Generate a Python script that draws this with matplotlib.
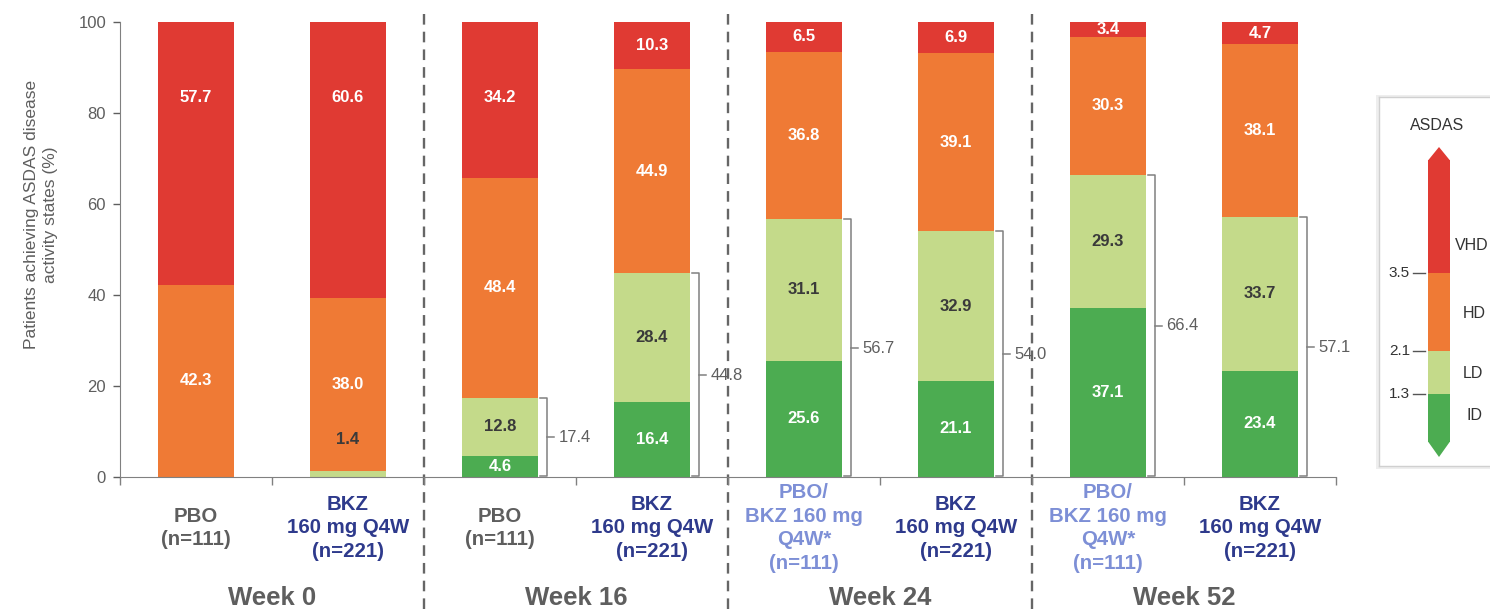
import numpy as np
import matplotlib
matplotlib.use("Agg")
import matplotlib.pyplot as plt
from matplotlib.patches import Polygon, Rectangle
from matplotlib.transforms import blended_transform_factory

plt.rcParams["font.family"] = ["Liberation Sans", "DejaVu Sans"]

# ---- data -------------------------------------------------------------
weeks = ["Week 0", "Week 16", "Week 24", "Week 52"]
arm_labels = [
    "PBO\n(n=111)", "BKZ\n160 mg Q4W\n(n=221)",
    "PBO\n(n=111)", "BKZ\n160 mg Q4W\n(n=221)",
    "PBO/\nBKZ 160 mg\nQ4W*\n(n=111)", "BKZ\n160 mg Q4W\n(n=221)",
    "PBO/\nBKZ 160 mg\nQ4W*\n(n=111)", "BKZ\n160 mg Q4W\n(n=221)",
]
arm_kind = ["pbo", "bkz", "pbo", "bkz", "switch", "bkz", "switch", "bkz"]

id_vals = [0.0, 0.0, 4.6, 16.4, 25.6, 21.1, 37.1, 23.4]
ld_vals = [0.0, 1.4, 12.8, 28.4, 31.1, 32.9, 29.3, 33.7]
hd_vals = [42.3, 38.0, 48.4, 44.9, 36.8, 39.1, 30.3, 38.1]
vhd_vals = [57.7, 60.6, 34.2, 10.3, 6.5, 6.9, 3.4, 4.7]
bracket_vals = [None, None, 17.4, 44.8, 56.7, 54.0, 66.4, 57.1]

cut_points = ["3.5", "2.1", "1.3"]
state_names = ["VHD", "HD", "LD", "ID"]

# ---- style ------------------------------------------------------------
C_VHD = "#e03a33"
C_HD = "#ef7a35"
C_LD = "#c4da8a"
C_ID = "#4cac51"
GRAY = "#5e5e5e"
LGRAY = "#808080"
ARM_COLORS = {"pbo": "#5e5e5e", "bkz": "#2e3a8c", "switch": "#7d8fd6"}

W, H = 1490, 609
fig = plt.figure(figsize=(W / 100, H / 100), dpi=100)
ax = fig.add_axes([120 / W, 1 - 477 / H, 1216 / W, 455 / H])

x = np.arange(len(id_vals))
bw = 0.5
segs = [(id_vals, C_ID, "w"), (ld_vals, C_LD, "#3a3a3a"),
        (hd_vals, C_HD, "w"), (vhd_vals, C_VHD, "w")]
bottom = np.zeros(len(x))
for k, (vals, col, tcol) in enumerate(segs):
    vals = np.array(vals)
    ax.bar(x, vals, bw, bottom=bottom, color=col, edgecolor="none", zorder=2)
    for i, v in enumerate(vals):
        if v <= 0:
            continue
        ymid = bottom[i] + v / 2
        c = tcol
        if v < 2:
            # too thin for a label: put it just above in dark text
            ymid = bottom[i] + 8.3
            c = "#3a3a3a"
        if k == 3:
            # tall top segments get their label pushed up near the top
            ymid = max(ymid, 83.3)
        ax.text(i, ymid, f"{v:.1f}", ha="center", va="center", color=c,
                fontsize=12, fontweight="bold", zorder=3)
    bottom += vals

# brackets for ID + LD
for i, b in enumerate(bracket_vals):
    if b is None:
        continue
    xb = i + 0.31
    ax.plot([xb - 0.045, xb, xb, xb - 0.045], [0.3, 0.3, b, b],
            color=LGRAY, lw=1.1, zorder=3, solid_joinstyle="round")
    ax.plot([xb, xb + 0.045], [b / 2, b / 2], color=LGRAY, lw=1.1, zorder=3)
    ax.text(xb + 0.075, b / 2, f"{b:.1f}", ha="left", va="center",
            color=GRAY, fontsize=12, zorder=4)

ax.set_xlim(-0.5, len(x) - 0.5)
ax.set_ylim(0, 100)
ax.set_yticks(np.arange(0, 101, 20))
ax.set_xticks(np.arange(-0.5, len(x), 1))
ax.set_xticklabels([])
ax.tick_params(axis="y", colors=GRAY, labelsize=12, length=5, width=1, pad=5)
ax.tick_params(axis="x", colors=LGRAY, length=6, width=1)
for s in ["top", "right"]:
    ax.spines[s].set_visible(False)
for s in ["left", "bottom"]:
    ax.spines[s].set_color(LGRAY)

ax.text(-0.065, 0.576, "Patients achieving ASDAS disease\nactivity states (%)",
        transform=ax.transAxes, rotation=90, ha="center", va="center",
        color=GRAY, fontsize=12.5, linespacing=1.3)

tr = blended_transform_factory(ax.transData, ax.transAxes)
# week dividers
for b in [1.5, 3.5, 5.5]:
    ax.plot([b, b], [-0.29, 1.026], transform=tr, clip_on=False,
            color="#666666", lw=1.7, ls=(0, (4.5, 3)), zorder=1)

# arm labels and week labels
for i, (lab, kind) in enumerate(zip(arm_labels, arm_kind)):
    ax.text(i, -0.112, lab, transform=tr, ha="center", va="center",
            color=ARM_COLORS[kind], fontsize=14.7, fontweight="bold",
            linespacing=1.32)
for j, wk in enumerate(weeks):
    ax.text(2 * j + 0.5, -0.267, wk, transform=tr, ha="center", va="center",
            color=GRAY, fontsize=18.5, fontweight="bold")

# ---- ASDAS legend box (pixel coordinates) -----------------------------
sh = fig.add_axes([1376 / W, 1 - 469 / H, 120 / W, 374 / H])
sh.set_facecolor("#eeeeee")
sh.set_xticks([])
sh.set_yticks([])
for s in sh.spines.values():
    s.set_visible(False)

lax = fig.add_axes([1379 / W, 1 - 466 / H, 114 / W, 369 / H])
lax.set_xlim(1379, 1493)
lax.set_ylim(466, 97)
lax.set_xticks([])
lax.set_yticks([])
for s in lax.spines.values():
    s.set_color("#d0d0d0")
    s.set_linewidth(1)

x0, x1, xc = 1428, 1450, 1439
bands = [(160, 273, C_VHD), (273, 351, C_HD), (351, 394, C_LD), (394, 442, C_ID)]
for ya, yb, col in bands:
    lax.add_patch(Rectangle((x0, ya), x1 - x0, yb - ya, color=col, lw=0))
lax.add_patch(Polygon([(x0, 160.5), (xc, 147), (x1, 160.5)], color=C_VHD, lw=0))
lax.add_patch(Polygon([(x0, 441.5), (xc, 457), (x1, 441.5)], color=C_ID, lw=0))

lax.text(1437, 126, "ASDAS", ha="center", va="center", fontsize=11.5, color="#333333")
for lab, yy in zip(cut_points, [273, 351, 394]):
    lax.plot([1413, 1425], [yy, yy], color="#555555", lw=1)
    lax.text(1410, yy, lab, ha="right", va="center", fontsize=11, color="#333333")
for lab, (xx, yy) in zip(state_names, [(1455, 245), (1463, 314), (1463, 374), (1466, 415)]):
    lax.text(xx, yy, lab, ha="left", va="center", fontsize=11.5, color="#333333")

fig.savefig("out.png", dpi=100)
